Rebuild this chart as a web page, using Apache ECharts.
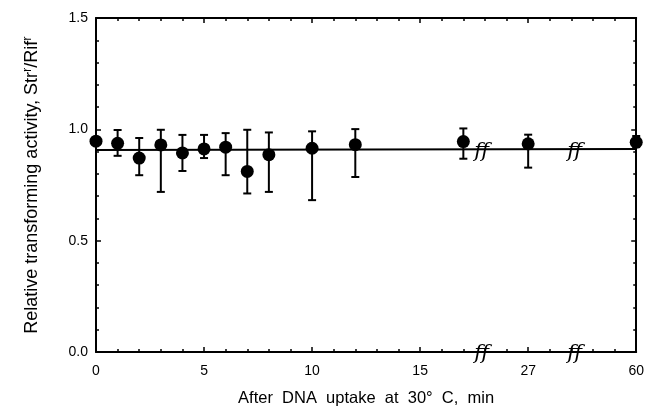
<!DOCTYPE html>
<html>
<head>
<meta charset="utf-8">
<script src="https://cdn.jsdelivr.net/npm/echarts@6/dist/echarts.min.js"></script>
<style>
  html, body { margin: 0; padding: 0; background: #fff; }
  #chart { width: 647px; height: 412px; }
</style>
</head>
<body>
<div id="chart"></div>
<script>
// minutes after DNA uptake, with the relative Str^r/Rif^r activity and its error bars
const timesMin = [0, 1, 2, 3, 4, 5, 6, 7, 8, 10, 12, 17, 27, 60];
const activity = [0.947, 0.937, 0.871, 0.930, 0.894, 0.912, 0.920, 0.811, 0.886, 0.915, 0.931, 0.945, 0.935, 0.942];
const errHigh = [null, 0.997, 0.961, 0.998, 0.975, 0.975, 0.983, 0.998, 0.986, 0.991, 1.001, 1.004, 0.976, 0.970];
const errLow = [null, 0.881, 0.794, 0.719, 0.813, 0.871, 0.794, 0.712, 0.719, 0.682, 0.786, 0.868, 0.828, 0.920];

// fitted line (start, end)
const fitTimes = [0, 60];
const fitValues = [0.907, 0.912];

// broken x axis: tick positions on the drawn scale and what they read
const xTickPos = [0, 5, 10, 15, 20, 25];
const xTickLabels = ['0', '5', '10', '15', '27', '60'];
const breakPos = [17.85, 22.15];

// the axis is cut twice: 18..26 and 29..57 min are left out
function toPos(t) {
    if (t <= 18) return t;
    if (t <= 30) return t - 7;
    return t - 35;
}

const chart = echarts.init(document.getElementById('chart'));

// onZero off, otherwise the top/right copies jump onto the zero lines
const axisLine = { show: true, onZero: false, lineStyle: { color: '#000', width: 2 } };
const font = 'Liberation Sans, Arial, sans-serif';

const xCommon = {
    type: 'value',
    min: 0,
    max: 25,
    interval: 5,
    axisLine: axisLine,
    axisTick: { show: true, inside: true, length: 5, lineStyle: { color: '#000', width: 1.5 } },
    minorTick: { show: true, splitNumber: 5, length: 3, lineStyle: { color: '#000', width: 1.5 } },
    splitLine: { show: false },
};
const yCommon = {
    type: 'value',
    min: 0,
    max: 1.5,
    interval: 0.5,
    axisLine: axisLine,
    axisTick: { show: true, inside: true, length: 5, lineStyle: { color: '#000', width: 1.5 } },
    minorTick: { show: true, splitNumber: 5, length: 3, lineStyle: { color: '#000', width: 1.5 } },
    splitLine: { show: false },
};

const points = timesMin.map((t, i) => [toPos(t), activity[i]]);
const bars = timesMin
    .map((t, i) => [toPos(t), errLow[i], errHigh[i]])
    .filter((d) => d[1] !== null);

chart.setOption({
    animation: false,
    backgroundColor: '#fff',
    grid: { left: 96, right: 8, top: 18, bottom: 57 },
    xAxis: [
        Object.assign({}, xCommon, {
            position: 'bottom',
            name: 'After  DNA  uptake  at  30°  C,  min',
            nameLocation: 'middle',
            nameGap: 38,
            nameTextStyle: { color: '#000', fontSize: 16.5, fontFamily: font },
            axisLabel: {
                color: '#000',
                fontSize: 14,
                fontFamily: font,
                margin: 12,
                formatter: (v) => {
                    const k = xTickPos.indexOf(v);
                    return k >= 0 ? xTickLabels[k] : '';
                },
            },
        }),
        Object.assign({}, xCommon, { position: 'top', axisLabel: { show: false } }),
    ],
    yAxis: [
        Object.assign({}, yCommon, {
            position: 'left',
            name: 'Relative transforming activity, Str{sup|r}/Rif{sup|r}',
            nameLocation: 'middle',
            nameGap: 53,
            nameTextStyle: {
                color: '#000',
                fontSize: 18,
                fontFamily: font,
                lineHeight: 22,
                rich: {
                    sup: { fontSize: 13, fontFamily: font, color: '#000', verticalAlign: 'top', lineHeight: 22 },
                },
            },
            axisLabel: {
                color: '#000',
                fontSize: 14,
                fontFamily: font,
                margin: 8,
                formatter: (v) => v.toFixed(1),
            },
        }),
        Object.assign({}, yCommon, { position: 'right', axisLabel: { show: false } }),
    ],
    series: [
        {
            type: 'line',
            data: fitTimes.map((t, i) => [toPos(t), fitValues[i]]),
            symbol: 'none',
            lineStyle: { color: '#000', width: 2 },
            z: 2,
        },
        {
            type: 'custom',
            data: bars,
            renderItem: (params, api) => {
                const top = api.coord([api.value(0), api.value(2)]);
                const bot = api.coord([api.value(0), api.value(1)]);
                const w = 4;
                const style = { stroke: '#000', lineWidth: 2 };
                return {
                    type: 'group',
                    children: [
                        { type: 'line', shape: { x1: top[0], y1: top[1], x2: bot[0], y2: bot[1] }, style },
                        { type: 'line', shape: { x1: top[0] - w, y1: top[1], x2: top[0] + w, y2: top[1] }, style },
                        { type: 'line', shape: { x1: bot[0] - w, y1: bot[1], x2: bot[0] + w, y2: bot[1] }, style },
                    ],
                };
            },
            z: 3,
        },
        {
            type: 'scatter',
            data: points,
            symbol: 'circle',
            symbolSize: 13,
            itemStyle: { color: '#000', opacity: 1 },
            z: 4,
        },
        {
            // "ff" break marks on the x axis and on the fitted line
            type: 'custom',
            data: breakPos.flatMap((p) => [[p, 0], [p, (fitValues[0] + fitValues[1]) / 2]]),
            renderItem: (params, api) => {
                const c = api.coord([api.value(0), api.value(1)]);
                return {
                    type: 'text',
                    x: c[0],
                    y: c[1] + 2,
                    style: {
                        text: 'ff',
                        fill: '#000',
                        font: 'italic 21px "DejaVu Serif", "Liberation Serif", serif',
                        align: 'center',
                        verticalAlign: 'middle',
                    },
                };
            },
            z: 5,
        },
    ],
});
</script>
</body>
</html>
